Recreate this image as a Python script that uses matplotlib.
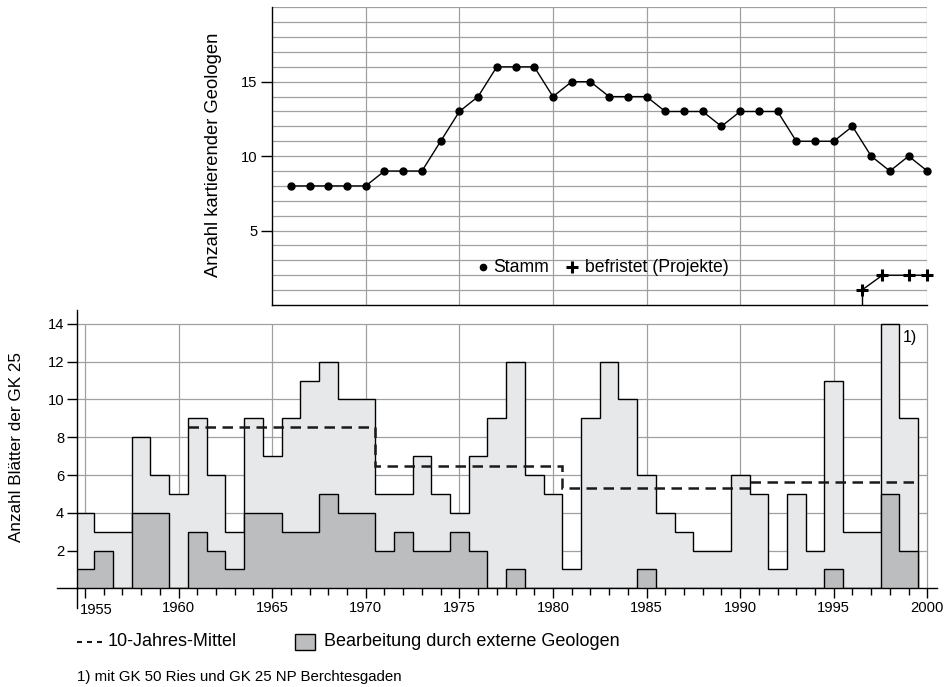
import matplotlib
matplotlib.use('Agg')
import matplotlib.pyplot as plt
import numpy as np
from matplotlib.lines import Line2D
from matplotlib.patches import Rectangle

plt.rcParams['font.family'] = ['Liberation Sans', 'DejaVu Sans']

# ---------------- data ----------------
years = list(range(1955, 2000))
total_sheets = [4, 3, 3, 8, 6, 5, 9, 6, 3, 9, 7, 9, 11, 12, 10,
                10, 5, 5, 7, 5, 4, 7, 9, 12, 6, 5, 1, 9, 12, 10,
                6, 4, 3, 2, 2, 6, 5, 1, 5, 2, 11, 3, 3, 14, 9]
external_sheets = [1, 2, 0, 4, 4, 0, 3, 2, 1, 4, 4, 3, 3, 5, 4,
                   4, 2, 3, 2, 2, 3, 2, 0, 1, 0, 0, 0, 0, 0, 0,
                   1, 0, 0, 0, 0, 0, 0, 0, 0, 0, 1, 0, 0, 5, 2]
mean_period_edges = [1960.5, 1970.5, 1980.5, 1990.5, 1999.5]
ten_year_means = [8.55, 6.5, 5.3, 5.65]

stamm_years = list(range(1966, 2001))
stamm = [8, 8, 8, 8, 8, 9, 9, 9, 11, 13, 14, 16, 16, 16, 14,
         15, 15, 14, 14, 14, 13, 13, 13, 12, 13, 13, 13, 11, 11, 11,
         12, 10, 9, 10, 9]
befristet_years = [1996.5, 1997.6, 1999, 2000]
befristet = [1, 2, 2, 2]

bottom_yticks = [2, 4, 6, 8, 10, 12, 14]
top_yticks = [5, 10, 15]
year_ticks = list(range(1955, 2001, 5))

# ---------------- layout ----------------
W, H = 949, 687
fig = plt.figure(figsize=(W / 100, H / 100), dpi=100)


def px_axes(x0, y0, x1, y1):
    return fig.add_axes([x0 / W, 1 - y1 / H, (x1 - x0) / W, (y1 - y0) / H])


GRID = '#a0a0a0'
LIGHT = '#e7e8e9'
DARK = '#bcbdbf'

xl, xr = 1954.59, 2000.5
bx0, bx1 = 77.3, 936.7
scale = (bx1 - bx0) / (xr - xl)

ax = px_axes(bx0, 310, bx1, 588.3)
ax.set_xlim(xl, xr)
ax.set_ylim(0, 14.74)
for s in ['top', 'right']:
    ax.spines[s].set_visible(False)
for s in ['left', 'bottom']:
    ax.spines[s].set_linewidth(1.0)
    ax.spines[s].set_zorder(6)

ax.hlines(bottom_yticks, xl, 2000, color=GRID, lw=0.9, zorder=0)
ax.vlines(year_ticks, 0, 14, color=GRID, lw=0.9, zorder=0)

edges = np.append(np.array(years) - 0.5, years[-1] + 0.5)
ax.stairs(total_sheets, edges, fill=True, facecolor=LIGHT, edgecolor='k',
          lw=1.0, zorder=2)
ax.stairs(external_sheets, edges, fill=True, facecolor=DARK, edgecolor='k',
          lw=1.0, zorder=3)
ax.stairs(ten_year_means, mean_period_edges, baseline=None, color='#1a1a1a',
          lw=1.8, linestyle=(0, (4.2, 2.6)), zorder=4)

ax.set_xticks(year_ticks)
ax.set_xticks(years + [2000], minor=True)
ax.set_xticklabels([''] + [str(y) for y in year_ticks[1:]])
ax.tick_params(axis='x', which='major', direction='out', length=7, width=1,
               labelsize=10.6, pad=2.5)
ax.tick_params(axis='x', which='minor', direction='out', length=5, width=1)
ax.text(1954.72, -0.8, '1955', fontsize=10.6, ha='left', va='top')
ax.set_yticks(bottom_yticks)
ax.tick_params(axis='y', direction='out', length=7.5, width=1,
               labelsize=10.6, pad=2)

# spine extensions
ax.plot([0, 0], [0, -19.4 / 278.3], transform=ax.transAxes, color='k',
        lw=1, clip_on=False, zorder=6)
ax.plot([-(bx0 - 56.7) / (bx1 - bx0), 0], [0, 0], transform=ax.transAxes,
        color='k', lw=1, clip_on=False, zorder=6)

ax.text(1998.7, 13.3, '1)', fontsize=11.5, ha='left', va='center')

# ---------------- top chart ----------------
tx0 = bx0 + (1965 - xl) * scale
tx1 = bx0 + (2000 - xl) * scale
ax2 = px_axes(tx0, 7.3, tx1, 305)
ax2.set_xlim(1965, 2000)
ax2.set_ylim(0, 20)
for s in ['top', 'right']:
    ax2.spines[s].set_visible(False)
for s in ['left', 'bottom']:
    ax2.spines[s].set_linewidth(1.0)
    ax2.spines[s].set_zorder(6)
ax2.hlines(range(1, 21), 1965, 2000, color=GRID, lw=0.9, zorder=0)
ax2.vlines(range(1970, 2001, 5), 0, 20, color=GRID, lw=0.9, zorder=0)
ax2.set_xticks([])
ax2.set_yticks(top_yticks)
ax2.tick_params(axis='y', direction='out', length=8, width=1,
                labelsize=10.6, pad=2.5)

ax2.plot(stamm_years, stamm, '-o', color='k', lw=1, ms=5, zorder=4,
         clip_on=False)
ax2.vlines(befristet_years[0], 0, befristet[0], color='k', lw=1, zorder=4)
ax2.plot(befristet_years, befristet, '-+', color='k', lw=1, ms=9, mew=2.2,
         zorder=4, clip_on=False)

ax2.plot([1976.25], [2.55], 'o', color='k', ms=4.5)
ax2.text(1976.8, 2.55, 'Stamm', fontsize=12.7, va='center', ha='left')
ax2.plot([1981.0], [2.55], '+', color='k', ms=9, mew=2.2)
ax2.text(1981.7, 2.55, 'befristet (Projekte)', fontsize=12.7, va='center',
         ha='left')

# ---------------- labels & legend ----------------
fig.text(17 / W, 1 - 447 / H, 'Anzahl Blätter der GK 25', rotation=90,
         ha='center', va='center', fontsize=12.3)
fig.text(213 / W, 1 - 155 / H, 'Anzahl kartierender Geologen', rotation=90,
         ha='center', va='center', fontsize=13.2)

ly = 1 - 642 / H
fig.add_artist(Line2D([77 / W, 102 / W], [ly, ly], color='#1a1a1a', lw=1.5,
                      linestyle=(0, (2.4, 2.4)), transform=fig.transFigure))
fig.text(108 / W, ly, '10-Jahres-Mittel', fontsize=13, va='center', ha='left')
fig.add_artist(Rectangle((295 / W, 1 - 650 / H), 20 / W, 16 / H,
                         facecolor=DARK, edgecolor='k', lw=1,
                         transform=fig.transFigure))
fig.text(323.5 / W, ly, 'Bearbeitung durch externe Geologen', fontsize=13,
         va='center', ha='left')
fig.text(77 / W, 1 - 677 / H, '1) mit GK 50 Ries und GK 25 NP Berchtesgaden',
         fontsize=10.8, va='center', ha='left')

fig.savefig('out.png', dpi=100)
